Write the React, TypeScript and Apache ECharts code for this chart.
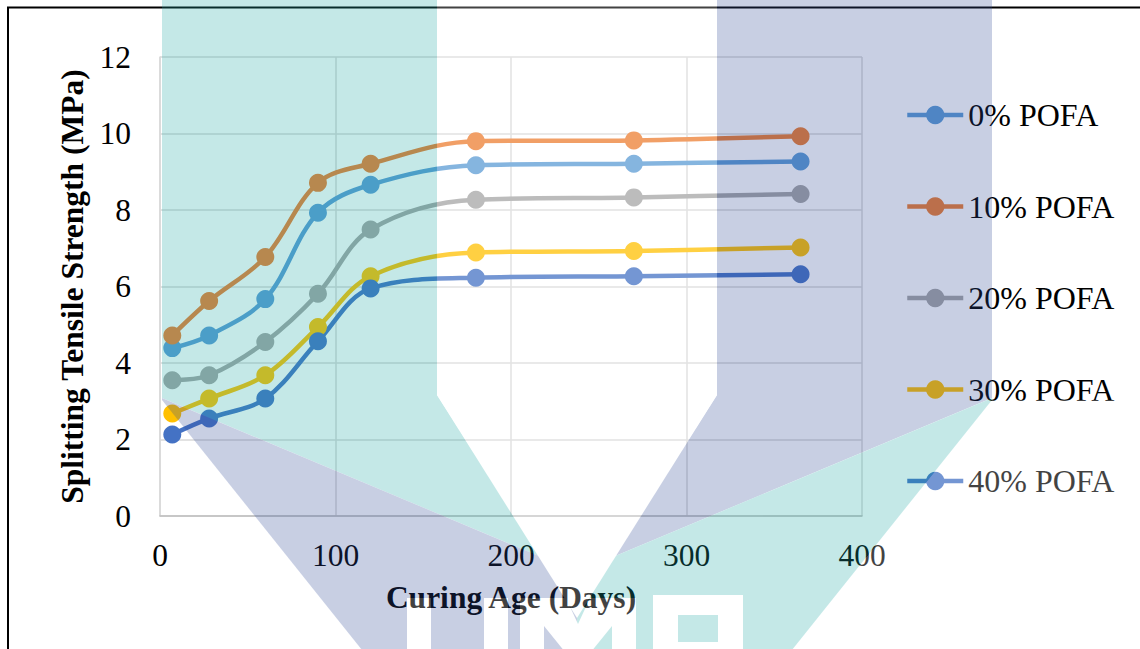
import React, { useEffect, useRef } from "react";
import * as echarts from "echarts";

// Curing ages (days) at which the cylinders were tested
const days = [7, 28, 60, 90, 120, 180, 270, 365];

// Splitting tensile strength (MPa) for each POFA replacement level
const pofa0 = [4.39, 4.72, 5.67, 7.93, 8.66, 9.17, 9.21, 9.27];
const pofa10 = [4.72, 5.62, 6.77, 8.71, 9.21, 9.8, 9.82, 9.93];
const pofa20 = [3.55, 3.68, 4.55, 5.81, 7.49, 8.27, 8.33, 8.42];
const pofa30 = [2.68, 3.07, 3.68, 4.94, 6.27, 6.89, 6.93, 7.02];
const pofa40 = [2.13, 2.55, 3.07, 4.57, 5.95, 6.23, 6.27, 6.32];

const seriesNames = ["0% POFA", "10% POFA", "20% POFA", "30% POFA", "40% POFA"];
const seriesValues = [pofa0, pofa10, pofa20, pofa30, pofa40];
const seriesColors = ["#5B9BD5", "#ED7D31", "#A5A5A5", "#FFC000", "#4472C4"];

const W = 1140;
const H = 649;
const FONT = "'Liberation Serif', 'Times New Roman', serif";

// Faint university emblem laid over the figure
const logoSvg = `<svg xmlns="http://www.w3.org/2000/svg" width="${W}" height="${H}" viewBox="0 0 ${W} ${H}">
<g opacity="0.26">
<polygon fill="#ffffff" points="992,400 1145,400 1145,700 752,700"/>
<polygon fill="#20AAA6" points="162,0 437,0 437,395 541,557 162,398"/>
<polygon fill="#2F4A97" points="992,0 717,0 717,395 613,557 992,398"/>
<polygon fill="#2F4A97" points="162,398 577,572 577,700 402,700 162,400"/>
<polygon fill="#20AAA6" points="992,398 577,572 577,700 752,700 992,400"/>
<polygon fill="#ffffff" points="437,-5 717,-5 717,395 577,618 437,395"/>
<rect fill="#ffffff" x="407" y="598" width="24" height="80"/>
<rect fill="#ffffff" x="484" y="598" width="24" height="80"/>
<rect fill="#ffffff" x="520" y="598" width="24" height="80"/>
<rect fill="#ffffff" x="612" y="598" width="24" height="80"/>
<polygon fill="#ffffff" points="544,598 566,598 578,624 590,598 612,598 612,626 578,668 544,626"/>
<path fill="#ffffff" fill-rule="evenodd" d="M653 595 H743 V700 H653 Z M678 615 H718 V642 H678 Z"/>
</g>
</svg>`;
const logoUrl = "data:image/svg+xml;charset=utf-8," + encodeURIComponent(logoSvg);

export default function App() {
  const ref = useRef<HTMLDivElement>(null);

  useEffect(() => {
    const chart = echarts.init(ref.current!, null, { renderer: "svg", width: W, height: H });

    const option: any = {
      animation: false,
      backgroundColor: "#ffffff",
      grid: { left: 160, right: W - 862, top: 57, bottom: H - 516, containLabel: false },
      xAxis: {
        type: "value",
        min: 0,
        max: 400,
        interval: 100,
        name: "Curing Age (Days)",
        nameLocation: "middle",
        nameGap: 65,
        nameTextStyle: { fontFamily: FONT, fontSize: 31.5, fontWeight: "bold", color: "#000" },
        axisLine: { show: true, lineStyle: { color: "#BFBFBF", width: 1.5 } },
        axisTick: { show: false },
        axisLabel: { fontFamily: FONT, fontSize: 31.5, color: "#000", margin: 23 },
        splitLine: { show: true, lineStyle: { color: "#D9D9D9", width: 1.5 } },
      },
      yAxis: {
        type: "value",
        min: 0,
        max: 12,
        interval: 2,
        name: "Splitting Tensile Strength (MPa)",
        nameLocation: "middle",
        nameGap: 70,
        nameTextStyle: { fontFamily: FONT, fontSize: 31.5, fontWeight: "bold", color: "#000" },
        axisLine: { show: true, lineStyle: { color: "#D9D9D9", width: 1.5 } },
        axisTick: { show: false },
        axisLabel: { fontFamily: FONT, fontSize: 31.5, color: "#000", margin: 29 },
        splitLine: { show: true, lineStyle: { color: "#D9D9D9", width: 1.5 } },
      },
      legend: {
        orient: "vertical",
        left: 900,
        top: 94,
        itemWidth: 56,
        itemHeight: 23,
        itemGap: 59.5,
        lineStyle: { width: 4.5 },
        textStyle: { fontFamily: FONT, fontSize: 32, color: "#000", lineHeight: 31 },
        data: seriesNames,
      },
      series: seriesNames.map((name, i) => ({
        type: "line",
        name,
        data: days.map((d, j) => [d, seriesValues[i][j]]),
        smooth: 0.35,
        symbol: "circle",
        symbolSize: 18,
        lineStyle: { width: 4.5, color: seriesColors[i] },
        itemStyle: { color: seriesColors[i] },
      })),
      graphic: [
        {
          type: "rect",
          silent: true,
          z: 90,
          shape: { x: 8, y: 7.5, width: 1300, height: 800 },
          style: { fill: "none", stroke: "#000", lineWidth: 2 },
        },
        {
          type: "image",
          silent: true,
          z: 100,
          style: { image: logoUrl, x: 0, y: 0, width: W, height: H },
        },
      ],
    };

    chart.setOption(option);
    return () => chart.dispose();
  }, []);

  return (
    <div
      ref={ref}
      style={{ position: "fixed", left: 0, top: 0, width: W, height: H }}
    />
  );
}
